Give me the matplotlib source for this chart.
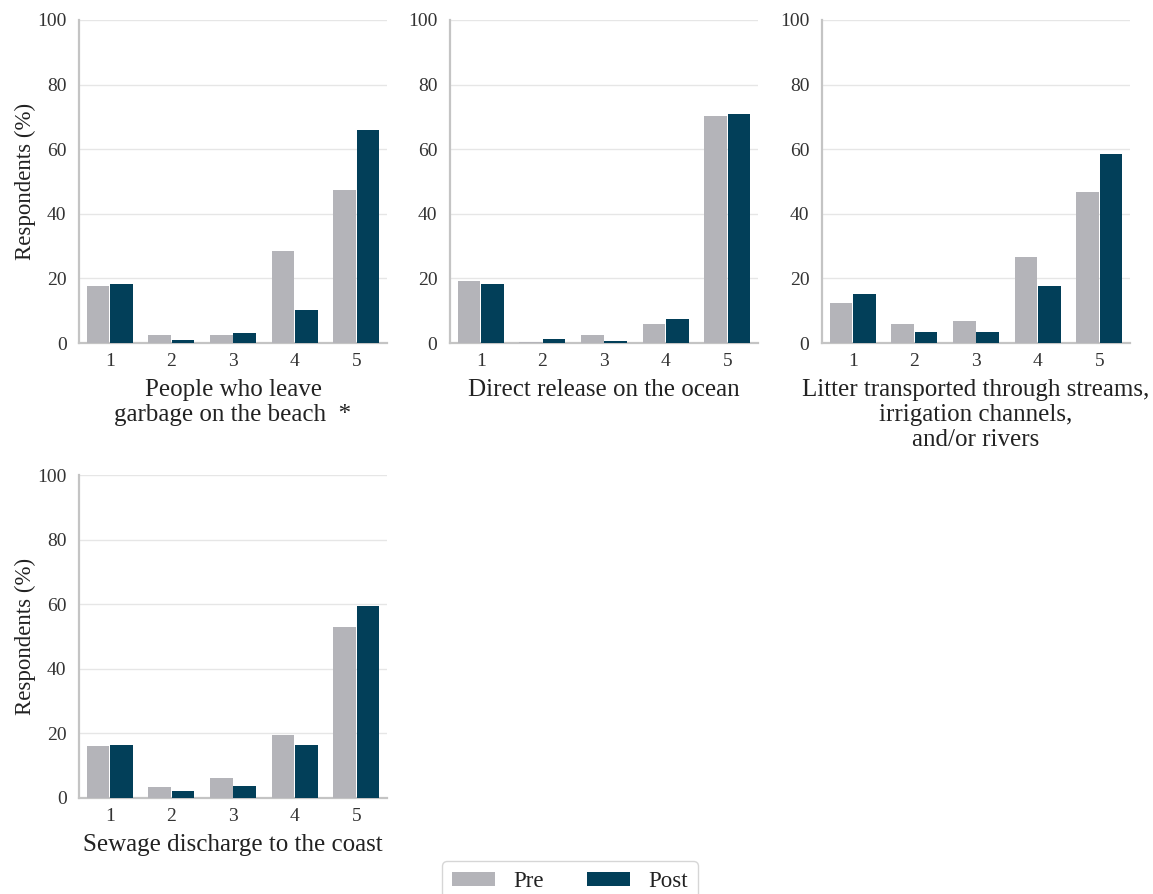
import matplotlib
matplotlib.use("Agg")
import matplotlib.pyplot as plt
import numpy as np

plt.rcParams['font.family'] = ['Liberation Serif', 'DejaVu Serif']

# Likert scores on the x axis
scores = ["1", "2", "3", "4", "5"]

# Percentage of respondents per score, before (Pre) and after (Post)
beach_pre = [17.7, 2.4, 2.4, 28.6, 47.4]
beach_post = [18.2, 0.8, 3.0, 10.3, 66.0]

ocean_pre = [19.1, 0.4, 2.4, 5.9, 70.4]
ocean_post = [18.2, 1.2, 0.5, 7.4, 70.9]

rivers_pre = [12.5, 5.9, 6.7, 26.7, 46.6]
rivers_post = [15.3, 3.3, 3.3, 17.8, 58.6]

sewage_pre = [16.0, 3.4, 6.2, 19.4, 52.8]
sewage_post = [16.5, 2.1, 3.7, 16.5, 59.4]

titles = [
    "People who leave\ngarbage on the beach  *",
    "Direct release on the ocean",
    "Litter transported through streams,\nirrigation channels,\nand/or rivers",
    "Sewage discharge to the coast",
]
series = [(beach_pre, beach_post), (ocean_pre, ocean_post),
          (rivers_pre, rivers_post), (sewage_pre, sewage_post)]

PRE_COLOR = "#b4b4b9"
POST_COLOR = "#023f59"
W, H = 1153, 894

fig = plt.figure(figsize=(W / 100, H / 100), dpi=100)

# panel boxes in pixels: left, top, width, height
boxes = [(79, 20, 308, 323), (450, 20, 308, 323),
         (822, 20, 308, 323), (79, 475, 308, 323)]

x = np.arange(len(scores))
bw = 0.365
off = 0.19
for i, ((l, t, w, h), (pre, post), title) in enumerate(zip(boxes, series, titles)):
    ax = fig.add_axes([l / W, 1 - (t + h) / H, w / W, h / H])
    ax.bar(x - off, pre, width=bw, color=PRE_COLOR, linewidth=0,
           label="Pre", zorder=3)
    ax.bar(x + off, post, width=bw, color=POST_COLOR, linewidth=0,
           label="Post", zorder=3)
    ax.set_xlim(-0.5, 4.5)
    ax.set_ylim(0, 100)
    ax.set_yticks([0, 20, 40, 60, 80, 100])
    ax.set_xticks(x)
    ax.set_xticklabels(scores)
    ax.yaxis.grid(True, color="#e6e6e6", linewidth=1.0, zorder=0)
    ax.set_axisbelow(True)
    for s in ("top", "right"):
        ax.spines[s].set_visible(False)
    for s in ("left", "bottom"):
        ax.spines[s].set_color("#c4c4c4")
        ax.spines[s].set_linewidth(1.6)
        ax.spines[s].set_zorder(2)
    ax.tick_params(axis="both", length=0, labelsize=14, labelcolor="#333333")
    ax.tick_params(axis="x", pad=7)
    ax.tick_params(axis="y", pad=9)
    ax.set_xlabel(title, fontsize=18, color="#222222", labelpad=7,
                  linespacing=1.17)
    if i in (0, 3):
        ax.set_ylabel("Respondents (%)", fontsize=16.5, color="#222222",
                      labelpad=1)
    if i == 0:
        handles, labels = ax.get_legend_handles_labels()

leg = fig.legend(handles, labels, loc="upper center",
                 bbox_to_anchor=(570 / W, 1 - 861 / H), ncol=2,
                 fontsize=16.5, frameon=True, fancybox=True,
                 handlelength=1.85, handleheight=0.55, handletextpad=0.8,
                 columnspacing=1.9, borderpad=0.45, borderaxespad=0)
leg.get_frame().set_edgecolor("#cccccc")
leg.get_frame().set_linewidth(1.0)
for txt in leg.get_texts():
    txt.set_color("#222222")

fig.savefig("out.png", dpi=100, facecolor="white")
